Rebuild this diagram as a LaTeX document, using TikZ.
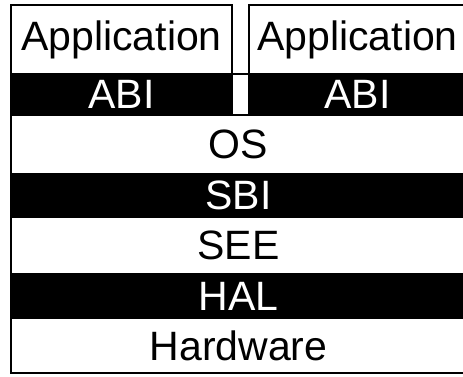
\documentclass[tikz,border=0pt]{standalone}
\usepackage{fontspec}
\setmainfont{Liberation Sans}
\begin{document}
\begin{tikzpicture}[x=1pt,y=-1pt,
  wlayer/.style={draw=black, line width=2.5pt, fill=white, inner sep=0pt, outer sep=0pt, anchor=north west, text=black, font=\fontsize{41}{44}\selectfont},
  blayer/.style={draw=black, line width=2.5pt, fill=black, inner sep=0pt, outer sep=0pt, anchor=north west, text=white, font=\fontsize{41}{44}\selectfont}]
\useasboundingbox (0,0) rectangle (463,376);
\clip (0,0) rectangle (463,376);
% applications
\node[wlayer, minimum width=221pt, minimum height=69pt] (app1) at (11,5) {Application};
\node[blayer, minimum width=221pt, minimum height=41pt] (abi1) at (11,74) {ABI};
\node[wlayer, minimum width=217pt, minimum height=69pt] (app2) at (249,5) {Application};
\node[blayer, minimum width=217pt, minimum height=41pt] (abi2) at (249,74) {ABI};
\node[wlayer, minimum width=17pt, minimum height=41pt] (gap) at (232,74) {};
% stack
\node[wlayer, minimum width=455pt, minimum height=59pt] (os) at (11,115) {OS};
\node[blayer, minimum width=455pt, minimum height=43pt] (sbi) at (11,174) {SBI};
\node[wlayer, minimum width=455pt, minimum height=57pt] (see) at (11,217) {SEE};
\node[blayer, minimum width=455pt, minimum height=44pt] (hal) at (11,274) {HAL};
\node[wlayer, minimum width=455pt, minimum height=55pt] (hw) at (11,318) {Hardware};
\end{tikzpicture}
\end{document}
